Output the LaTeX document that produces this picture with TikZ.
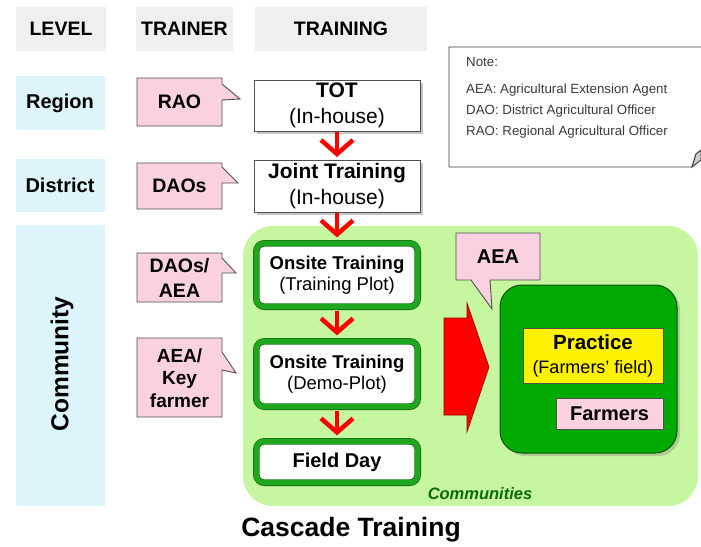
\documentclass[tikz,border=0pt]{standalone}
\usepackage{fontspec}
\setmainfont{Liberation Sans}
\usetikzlibrary{arrows.meta,shadows}

\definecolor{hdrgray}{HTML}{EFEFEF}
\definecolor{lvlcyan}{HTML}{DDF4FA}
\definecolor{calloutpink}{HTML}{F9D1E0}
\definecolor{areagreen}{HTML}{C6F6A0}
\definecolor{bandgreen}{HTML}{1FA81F}
\definecolor{edgegreen}{HTML}{147414}
\definecolor{fieldgreen}{HTML}{00AA00}
\definecolor{textgreen}{HTML}{0B6A0B}
\definecolor{linegray}{HTML}{505050}
\definecolor{notegray}{HTML}{3A3A3A}

\newcommand\myfs[2]{\fontsize{#1}{#2}\selectfont}

\tikzset{
  hdrbox/.style={fill=hdrgray, inner sep=0pt, font=\myfs{19.5}{23}\bfseries},
  lvlbox/.style={fill=lvlcyan, inner sep=0pt, font=\myfs{20}{24}\bfseries},
  calloutshape/.style={fill=calloutpink, draw=linegray, line width=0.9pt, line join=miter},
  callouttext/.style={align=center, inner sep=0pt, font=\myfs{19.5}{25}\bfseries},
  plainbox/.style={fill=white, draw=linegray, line width=1pt, inner sep=0pt, align=center,
    drop shadow={shadow xshift=2.5pt, shadow yshift=-2.5pt, opacity=0.45}},
  sitebox/.style={fill=white, draw=edgegreen, double=bandgreen, double distance=5pt,
    line width=0.8pt, rounded corners=8pt, inner sep=0pt, align=center,
    drop shadow={shadow xshift=2.5pt, shadow yshift=-2.5pt, opacity=0.35}},
  flowarrow/.style={draw=red, line width=4.5pt,
    -{Straight Barb[length=14pt, width=32pt]}},
}

\begin{document}
\begin{tikzpicture}[x=1pt, y=-1pt]
\clip (0,0) rectangle (701,546);
\fill[white] (0,0) rectangle (701,546);

% column headers
\node[hdrbox, minimum width=90pt, minimum height=44pt] (hlevel) at (61,29) {LEVEL};
\node[hdrbox, minimum width=97pt, minimum height=44pt] (htrainer) at (184.5,29) {TRAINER};
\node[hdrbox, minimum width=172pt, minimum height=44pt] (htraining) at (341,29) {TRAINING};

% levels
\node[lvlbox, minimum width=89pt, minimum height=54pt] (region) at (60,103) {Region};
\node[lvlbox, minimum width=89pt, minimum height=53pt] (district) at (60,185.5) {District};
\node[lvlbox, minimum width=89pt, minimum height=281pt] (community) at (60.5,365.5) {};
\node[rotate=90, inner sep=0pt, font=\myfs{24.5}{28}\bfseries] (communitytxt) at (62,364) {Community};

% communities area
\fill[areagreen, rounded corners=30pt] (243,226) rectangle (698,506);
\node[font=\myfs{16.5}{20}\bfseries\itshape, text=textgreen, inner sep=0pt] (commlabel) at (480,494) {Communities};

% trainer callouts
\path[calloutshape] (137,78) -- (222,78) -- (222,84) -- (240,99) -- (222,100) -- (222,126) -- (137,126) -- cycle;
\node[callouttext] (rao) at (179.5,102) {RAO};
\path[calloutshape] (137,163) -- (222,163) -- (222,167) -- (238,183) -- (222,183) -- (222,209) -- (137,209) -- cycle;
\node[callouttext] (daos) at (179.5,186) {DAOs};
\path[calloutshape] (137,253) -- (222,253) -- (222,258) -- (236,273) -- (222,273) -- (222,302) -- (137,302) -- cycle;
\node[callouttext] (daosaea) at (179.5,278) {DAOs/\\AEA};
\path[calloutshape] (137,338) -- (222,338) -- (222,352) -- (236,373) -- (222,370) -- (222,417) -- (137,417) -- cycle;
\node[callouttext, font=\myfs{19}{22.5}\bfseries] (aeakey) at (179.5,378) {AEA/\\Key\\farmer};

% training steps
\node[plainbox, minimum width=166pt, minimum height=51pt, font=\myfs{21}{25.5}] (tot) at (337,105.5)
  {\textbf{TOT}\\(In-house)};
\node[plainbox, minimum width=166pt, minimum height=52pt, font=\myfs{21}{25.5}] (joint) at (337,186)
  {\textbf{Joint Training}\\(In-house)};
\node[sitebox, minimum width=161.4pt, minimum height=63.4pt, font=\myfs{18.5}{20.5}] (onsite1) at (337,275)
  {\textbf{Onsite Training}\\(Training Plot)};
\node[sitebox, minimum width=161.4pt, minimum height=65.4pt, font=\myfs{18.5}{20.5}] (onsite2) at (337,374)
  {\textbf{Onsite Training}\\(Demo-Plot)};
\node[sitebox, minimum width=161.4pt, minimum height=41.4pt, font=\myfs{20}{24}\bfseries] (fieldday) at (337,462) {Field Day};

% cascade arrows
\draw[flowarrow, shorten >=2.5pt] (tot.south) -- (joint.north);
\draw[flowarrow, shorten >=5.5pt] (joint.south) -- (onsite1.north);
\draw[flowarrow, shorten <=3.5pt, shorten >=5.5pt] (onsite1.south) -- (onsite2.north);
\draw[flowarrow, shorten <=3.5pt, shorten >=5.5pt] (onsite2.south) -- (fieldday.north);

% transfer to the farmers' field
\filldraw[fill=red, draw=red!60!black, line width=0.6pt, line join=miter]
  (444,318) -- (467,318) -- (467,303) -- (489,367) -- (467,432) -- (467,415) -- (444,415) -- cycle;

\node[fill=fieldgreen, draw=edgegreen!70!black, line width=1pt, rounded corners=22pt,
  minimum width=177pt, minimum height=168pt,
  drop shadow={shadow xshift=3pt, shadow yshift=-3pt, opacity=0.35}] (farmfield) at (588.5,369) {};
\node[fill=yellow, draw=linegray, line width=0.9pt, inner sep=0pt, align=center,
  minimum width=140pt, minimum height=55pt, font=\myfs{18}{24}] (practice) at (593,355.5)
  {{\myfs{20.5}{24}\bfseries Practice}\\(Farmers’ field)};
\node[fill=calloutpink, draw=linegray, line width=0.9pt, inner sep=0pt,
  minimum width=107pt, minimum height=31pt, font=\myfs{20}{24}\bfseries] (farmers) at (609.5,413.5) {Farmers};

% AEA callout
\path[calloutshape] (456,233) -- (540,233) -- (540,280) -- (490,280) -- (492,309) -- (471,280) -- (456,280) -- cycle;
\node[callouttext, font=\myfs{20}{24}\bfseries] (aea) at (498,257) {AEA};

% note
\filldraw[fill=white, draw=notegray, line width=0.9pt, line join=miter]
  (710,47) -- (449,47) -- (449,167) -- (692,167) -- (696,154) -- (710,146);
\filldraw[fill=gray!40, draw=notegray, line width=0.9pt, line join=miter]
  (692,167) -- (696,154) -- (701,150) -- (701,160) -- cycle;
\begin{scope}[every node/.style={anchor=west, inner sep=0pt, text=notegray, font=\myfs{13.3}{16}}]
  \node (notehead) at (466,62) {Note:};
  \node (noteaea) at (466,90) {AEA: Agricultural Extension Agent};
  \node (notedao) at (466,111) {DAO: District Agricultural Officer};
  \node (noterao) at (466,132) {RAO: Regional Agricultural Officer};
\end{scope}

% title
\node[font=\myfs{26.5}{30}\bfseries, inner sep=0pt] (title) at (351,530) {Cascade Training};
\end{tikzpicture}
\end{document}
